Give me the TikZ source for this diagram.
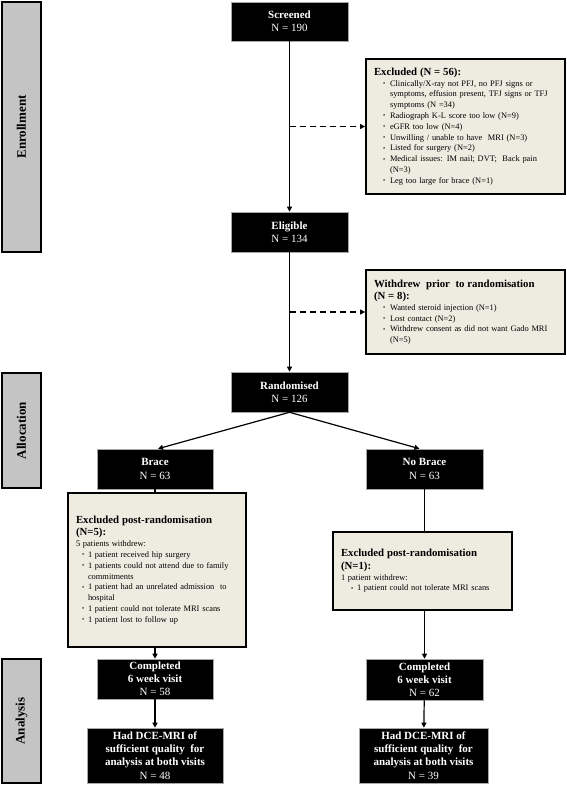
\documentclass[tikz,border=0pt]{standalone}
\usepackage{fontspec}
\setmainfont{Liberation Serif}
\usetikzlibrary{arrows.meta}
\definecolor{boxfill}{HTML}{EEECE1}
\definecolor{barfill}{HTML}{C4C4C4}
\newcommand\bitem[3]{\par\noindent\hangindent=#2\hangafter=1\hspace*{#1}\makebox[\dimexpr#2-#1\relax][l]{\raisebox{0.6pt}{\scalebox{0.75}{\textbullet}}}#3\par}
\newcommand\hd[1]{{\fontsize{10.8}{12.5}\selectfont\bfseries #1\par}}
\begin{document}
\begin{tikzpicture}[x=1pt,y=-1pt,
  bbox/.style={fill=black, draw=gray!70, line width=0.6pt, text=white, align=center, font=\fontsize{11}{13.2}\selectfont, inner sep=0pt},
  tbox/.style={fill=boxfill, draw=black, line width=1.8pt, align=left, font=\fontsize{8.4}{10.8}\selectfont, inner xsep=8pt, inner ysep=3pt},
  bar/.style={fill=barfill, draw=black, line width=1.5pt, font=\fontsize{13}{15}\selectfont\bfseries, rotate=90, inner sep=0pt},
  arr/.style={line width=1.2pt, -{Triangle[length=5pt,width=5pt]}},
  ln/.style={line width=1.2pt},
  darr/.style={line width=1.4pt, dash pattern=on 6pt off 4pt, -{Triangle[length=5pt,width=5pt]}}
]
\useasboundingbox (0,0) rectangle (567,785);
\fill[white] (0,0) rectangle (567,785);

% phase bars
\node[bar, minimum width=250pt, minimum height=39pt] (enr) at (21.5,127) {Enrollment};
\node[bar, minimum width=115pt, minimum height=39pt] (alo) at (21.5,430.5) {Allocation};
\node[bar, minimum width=124pt, minimum height=39pt] (ana) at (21.5,721) {Analysis};

% black boxes
\node[bbox, minimum width=117pt, minimum height=39pt] (scr) at (289.5,21.5) {\textbf{Screened}\\N = 190};
\node[bbox, minimum width=117pt, minimum height=40pt] (elig) at (289.5,232) {\textbf{Eligible}\\N = 134};
\node[bbox, minimum width=117pt, minimum height=40pt] (rand) at (289.5,392) {\textbf{Randomised}\\N = 126};
\node[bbox, minimum width=116pt, minimum height=40pt] (brace) at (155,469) {\textbf{Brace}\\N = 63};
\node[bbox, minimum width=117pt, minimum height=40pt] (nobrace) at (424.5,469) {\textbf{No Brace}\\N = 63};
\node[bbox, minimum width=116pt, minimum height=40pt] (compL) at (155,679) {\textbf{Completed}\\\textbf{6 week visit}\\N = 58};
\node[bbox, minimum width=117pt, minimum height=41pt] (compR) at (424.5,679.5) {\textbf{Completed}\\\textbf{6 week visit}\\N = 62};
\node[bbox, minimum width=136pt, minimum height=55pt] (dceL) at (155,755.5) {\textbf{Had DCE-MRI of}\\\textbf{sufficient quality \ for}\\\textbf{analysis at both visits}\\N = 48};
\node[bbox, minimum width=129pt, minimum height=55pt] (dceR) at (423.5,755.5) {\textbf{Had DCE-MRI of}\\\textbf{sufficient quality \ for}\\\textbf{analysis at both visits}\\N = 39};

% text boxes
\node[tbox, text width=183pt, minimum height=135pt] (excl) at (465.5,126.5) {%
\hd{Excluded (N = 56):}%
\bitem{9pt}{16pt}{\mbox{Clinically/X-ray not PFJ, no PFJ signs or}\newline\mbox{symptoms, effusion present, TFJ signs or TFJ}\newline\mbox{symptoms (N =34)}}%
\bitem{9pt}{16pt}{\mbox{Radiograph K-L score too low (N=9)}}%
\bitem{9pt}{16pt}{\mbox{eGFR too low (N=4)}}%
\bitem{9pt}{16pt}{\mbox{Unwilling / unable to have \ MRI (N=3)}}%
\bitem{9pt}{16pt}{\mbox{Listed for surgery (N=2)}}%
\bitem{9pt}{16pt}{\mbox{Medical issues: IM nail; DVT; \ Back pain}\newline\mbox{(N=3)}}%
\bitem{9pt}{16pt}{\mbox{Leg too large for brace (N=1)}}};

\node[tbox, text width=183pt, minimum height=84pt] (wd) at (465.5,312) {%
\hd{Withdrew \ prior \ to randomisation\\(N = 8):}%
\bitem{9pt}{16pt}{\mbox{Wanted steroid injection (N=1)}}%
\bitem{9pt}{16pt}{\mbox{Lost contact (N=2)}}%
\bitem{9pt}{16pt}{\mbox{Withdrew consent as did not want Gado MRI}\newline\mbox{(N=5)}}};

\node[tbox, text width=162pt, minimum height=154pt] (bexc) at (157,570) {%
\hd{Excluded post-randomisation\\(N=5):}%
\noindent\mbox{5 patients withdrew:}%
\bitem{6pt}{12pt}{\mbox{1 patient received hip surgery}}%
\bitem{6pt}{12pt}{\mbox{1 patients could not attend due to family}\newline\mbox{commitments}}%
\bitem{6pt}{12pt}{\mbox{1 patient had an unrelated admission \ to}\newline\mbox{hospital}}%
\bitem{6pt}{12pt}{\mbox{1 patient could not tolerate MRI scans}}%
\bitem{6pt}{12pt}{\mbox{1 patient lost to follow up}}};

\node[tbox, text width=163pt, minimum height=78pt] (nexc) at (422.5,571) {%
\hd{Excluded post-randomisation\\(N=1):}%
\noindent\mbox{1 patient withdrew:}%
\bitem{10pt}{16pt}{\mbox{1 patient could not tolerate MRI scans}}};

% connectors
\draw[arr] (scr) -- (elig);
\draw[arr] (elig) -- (rand);
\draw[darr] (excl.west -| scr.south) -- (excl.west);
\draw[darr] (wd.west -| scr.south) -- (wd.west);
\draw[arr] (rand.south) -- ([xshift=3pt]brace.north);
\draw[arr] (rand.south) -- ([xshift=-5pt]nobrace.north);
\draw[ln] (brace.south) -- (brace.south |- bexc.north);
\draw[arr] (brace.south |- bexc.south) -- (compL.north);
\draw[arr] (compL) -- (dceL);
\draw[ln] (nobrace.south) -- (nobrace.south |- nexc.north);
\draw[arr] (nobrace.south |- nexc.south) -- (compR.north);
\draw[arr] (compR) -- (dceR);
\end{tikzpicture}
\end{document}
